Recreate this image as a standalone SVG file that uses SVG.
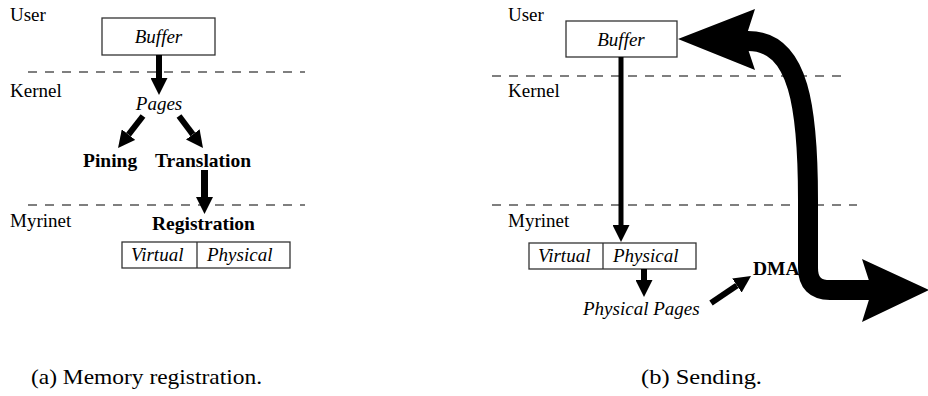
<svg xmlns="http://www.w3.org/2000/svg" width="928" height="396" viewBox="0 0 928 396">
<defs>
<style>
text{font-family:"Liberation Serif","Times New Roman",serif;font-size:19px;fill:#000}
.it{font-style:italic}
.b{font-weight:bold;font-size:19.5px}
.box{fill:#fff;stroke:#333;stroke-width:1.3}
.dash{stroke:#555;stroke-width:1.3;stroke-dasharray:9 8;fill:none}
.arr{stroke:#000;fill:none;marker-end:url(#head)}
.cap{font-size:21px}
</style>
<marker id="head" markerUnits="userSpaceOnUse" viewBox="0 0 17 17" markerWidth="17" markerHeight="17" refX="0" refY="8.5" orient="auto">
<path d="M0,0 L17,8.5 L0,17 z" fill="#000"/>
</marker>
</defs>
<rect width="928" height="396" fill="#fff"/>

<g id="layers">
<text x="10" y="21">User</text>
<text x="10" y="97">Kernel</text>
<text x="10" y="227">Myrinet</text>
<line class="dash" x1="28" y1="72" x2="305" y2="72"/>
<line class="dash" x1="28" y1="205" x2="305" y2="205"/>
<text x="508" y="21">User</text>
<text x="508" y="97">Kernel</text>
<text x="508" y="227">Myrinet</text>
<line class="dash" x1="492" y1="76" x2="841" y2="76"/>
<line class="dash" x1="492" y1="205" x2="857" y2="205"/>
</g>

<g id="a-buffer">
<rect class="box" x="102" y="18" width="113" height="37"/>
<text class="it" x="158.5" y="43" text-anchor="middle">Buffer</text>
</g>
<g id="a-pages"><text class="it" x="159" y="110" text-anchor="middle">Pages</text></g>
<g id="a-pining"><text class="b" x="83" y="167">Pining</text></g>
<g id="a-translation"><text class="b" x="155" y="167">Translation</text></g>
<g id="a-registration"><text class="b" x="152" y="230">Registration</text></g>
<g id="a-table">
<rect class="box" x="122" y="242" width="168" height="26"/>
<line x1="197" y1="242" x2="197" y2="268" stroke="#333" stroke-width="1.3"/>
<text class="it" x="131" y="261">Virtual</text>
<text class="it" x="207" y="261">Physical</text>
</g>

<g id="b-buffer">
<rect class="box" x="566" y="21" width="111" height="36"/>
<text class="it" x="621" y="46" text-anchor="middle">Buffer</text>
</g>
<g id="b-table">
<rect class="box" x="529" y="243" width="167" height="26"/>
<line x1="603" y1="243" x2="603" y2="269" stroke="#333" stroke-width="1.3"/>
<text class="it" x="538" y="262">Virtual</text>
<text class="it" x="613" y="262">Physical</text>
</g>
<g id="b-pages"><text class="it" x="583" y="315">Physical Pages</text></g>
<g id="b-dma"><text class="b" x="753" y="275">DMA</text></g>

<g id="connectors">
<line class="arr" x1="159" y1="55" x2="159" y2="78" stroke-width="6"/>
<line class="arr" x1="143" y1="116" x2="128.5" y2="134.6" stroke-width="6"/>
<line class="arr" x1="179" y1="116" x2="192.8" y2="134.4" stroke-width="6"/>
<line class="arr" x1="204.5" y1="170" x2="204.5" y2="197" stroke-width="7"/>
<line class="arr" x1="621" y1="57" x2="621" y2="225" stroke-width="5"/>
<line class="arr" x1="644" y1="269" x2="644" y2="280" stroke-width="6"/>
<line class="arr" x1="711" y1="303" x2="736.9" y2="285.5" stroke-width="6"/>
<path d="M874,290 L830,290 Q808,290 808,268 L808,200 C808,110 800,41 748,41 L744,41" fill="none" stroke="#000" stroke-width="20"/>
<polygon points="678,39 755,9 745,40 755,70" fill="#000"/>
<polygon points="929,290 862,259 872,290 862,322" fill="#000"/>
</g>

<g id="captions">
<text class="cap" x="31" y="384" textLength="231" lengthAdjust="spacingAndGlyphs">(a) Memory registration.</text>
<text class="cap" x="641" y="384" textLength="121" lengthAdjust="spacingAndGlyphs">(b) Sending.</text>
</g>
</svg>
